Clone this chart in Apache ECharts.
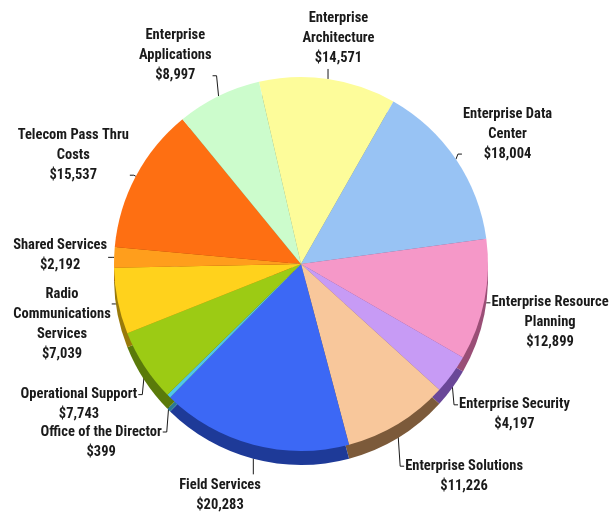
<!DOCTYPE html>
<html>
<head>
<meta charset="utf-8">
<script src="https://cdn.jsdelivr.net/npm/echarts@6/dist/echarts.min.js"></script>
<style>
  html, body { margin: 0; padding: 0; background: #ffffff; }
  #chart { width: 611px; height: 515px; }
</style>
</head>
<body>
<div id="chart"></div>
<script>
// ---- data ----
const categories = [
  'Enterprise\nArchitecture',
  'Enterprise Data\nCenter',
  'Enterprise Resource\nPlanning',
  'Enterprise Security',
  'Enterprise Solutions',
  'Field Services',
  'Office of the Director',
  'Operational Support',
  'Radio\nCommunications\nServices',
  'Shared Services',
  'Telecom Pass Thru\nCosts',
  'Enterprise\nApplications'
];
const values = [14571, 18004, 12899, 4197, 11226, 20283, 399, 7743, 7039, 2192, 15537, 8997];
const topColors = ['#FDFC9A', '#98C3F4', '#F598C8', '#C79BF5', '#F8C79B', '#3C68F5',
                   '#4EC4EE', '#9CCB14', '#FFD21C', '#FF9E1C', '#FE6F12', '#CCFCCC'];
const sideColors = ['#9A9A50', '#4F6E9A', '#9A4E76', '#6A4798', '#7C5A3A', '#1E3A98',
                    '#2A7A96', '#5A7A0A', '#9A7A0A', '#9A5A0A', '#9A3E08', '#6A9A6A'];

// ---- geometry / style ----
const CX = 301, CY = 264, R = 187, DEPTH = 14;
const FONT = "'Liberation Sans Narrow', 'Arial Narrow', 'Roboto Condensed', 'Liberation Sans', sans-serif";

function fmtMoney(v) { return '$' + v.toLocaleString('en-US'); }

const mainData = categories.map((c, i) => ({ name: c, value: values[i], itemStyle: { color: topColors[i] } }));
const sideData = categories.map((c, i) => ({ name: c, value: values[i], itemStyle: { color: sideColors[i] } }));

function labelLayout(params) {
  const pts = params.labelLinePoints;
  if (!pts) return {};
  const ex = pts[0][0], ey = pts[0][1];
  const dx = ex - CX, dy = ey - CY;
  const len = Math.hypot(dx, dy) || 1;
  const ux = dx / len, uy = dy / len;
  const w = params.labelRect.width, h = params.labelRect.height;
  const nLines = (params.text || '').split('\n').length;
  const lh = h / nLines;
  const lower = uy > 0;
  const sy = ey + (lower ? DEPTH * uy : 0);

  if (Math.abs(ux) < 0.3) {
    // top or bottom: text centred above / below a short vertical line
    const L = lower ? 16 : 10;
    const endY = lower ? sy + L : sy - L;
    return {
      x: ex + ux * w * (lower ? 1.6 : 1),
      y: lower ? endY + 1 : endY - 1,
      align: 'center',
      verticalAlign: lower ? 'top' : 'bottom',
      labelLinePoints: [[ex, sy], [ex, endY], [ex, endY]]
    };
  }
  const sign = ux > 0 ? 1 : -1;
  const nearX = ex + sign * 7;
  const offY = lower ? 45 * uy + 14 : 45 * uy;
  const blockTop = ey + offY - h / 2;
  const attachY = Math.min(Math.max(sy, blockTop + lh / 2), blockTop + h - lh / 2);
  return {
    x: nearX + sign * w / 2,
    y: blockTop,
    align: 'center',
    verticalAlign: 'top',
    labelLinePoints: [[ex, sy], [nearX - sign * 5, attachY], [nearX - sign * 1, attachY]]
  };
}

const chart = echarts.init(document.getElementById('chart'), null, { renderer: 'canvas' });
chart.setOption({
  backgroundColor: '#ffffff',
  animation: false,
  series: [
    {
      type: 'pie',
      silent: true,
      center: [CX, CY + DEPTH],
      radius: [0, R],
      startAngle: 103,
      clockwise: true,
      label: { show: false },
      labelLine: { show: false },
      itemStyle: { borderWidth: 0 },
      emphasis: { disabled: true },
      data: sideData
    },
    {
      type: 'pie',
      center: [CX, CY],
      radius: [0, R],
      startAngle: 103,
      clockwise: true,
      avoidLabelOverlap: false,
      itemStyle: { borderWidth: 0 },
      emphasis: { disabled: true },
      label: {
        show: true,
        position: 'outside',
        formatter: p => p.name + '\n' + fmtMoney(p.value),
        fontFamily: FONT,
        fontSize: 14.5,
        fontWeight: 'bold',
        lineHeight: 20,
        color: '#1a1a1a'
      },
      labelLine: {
        show: true,
        length: 8,
        length2: 5,
        smooth: false,
        lineStyle: { color: '#1a1a1a', width: 1 }
      },
      labelLayout: labelLayout,
      data: mainData
    }
  ]
});
</script>
</body>
</html>
